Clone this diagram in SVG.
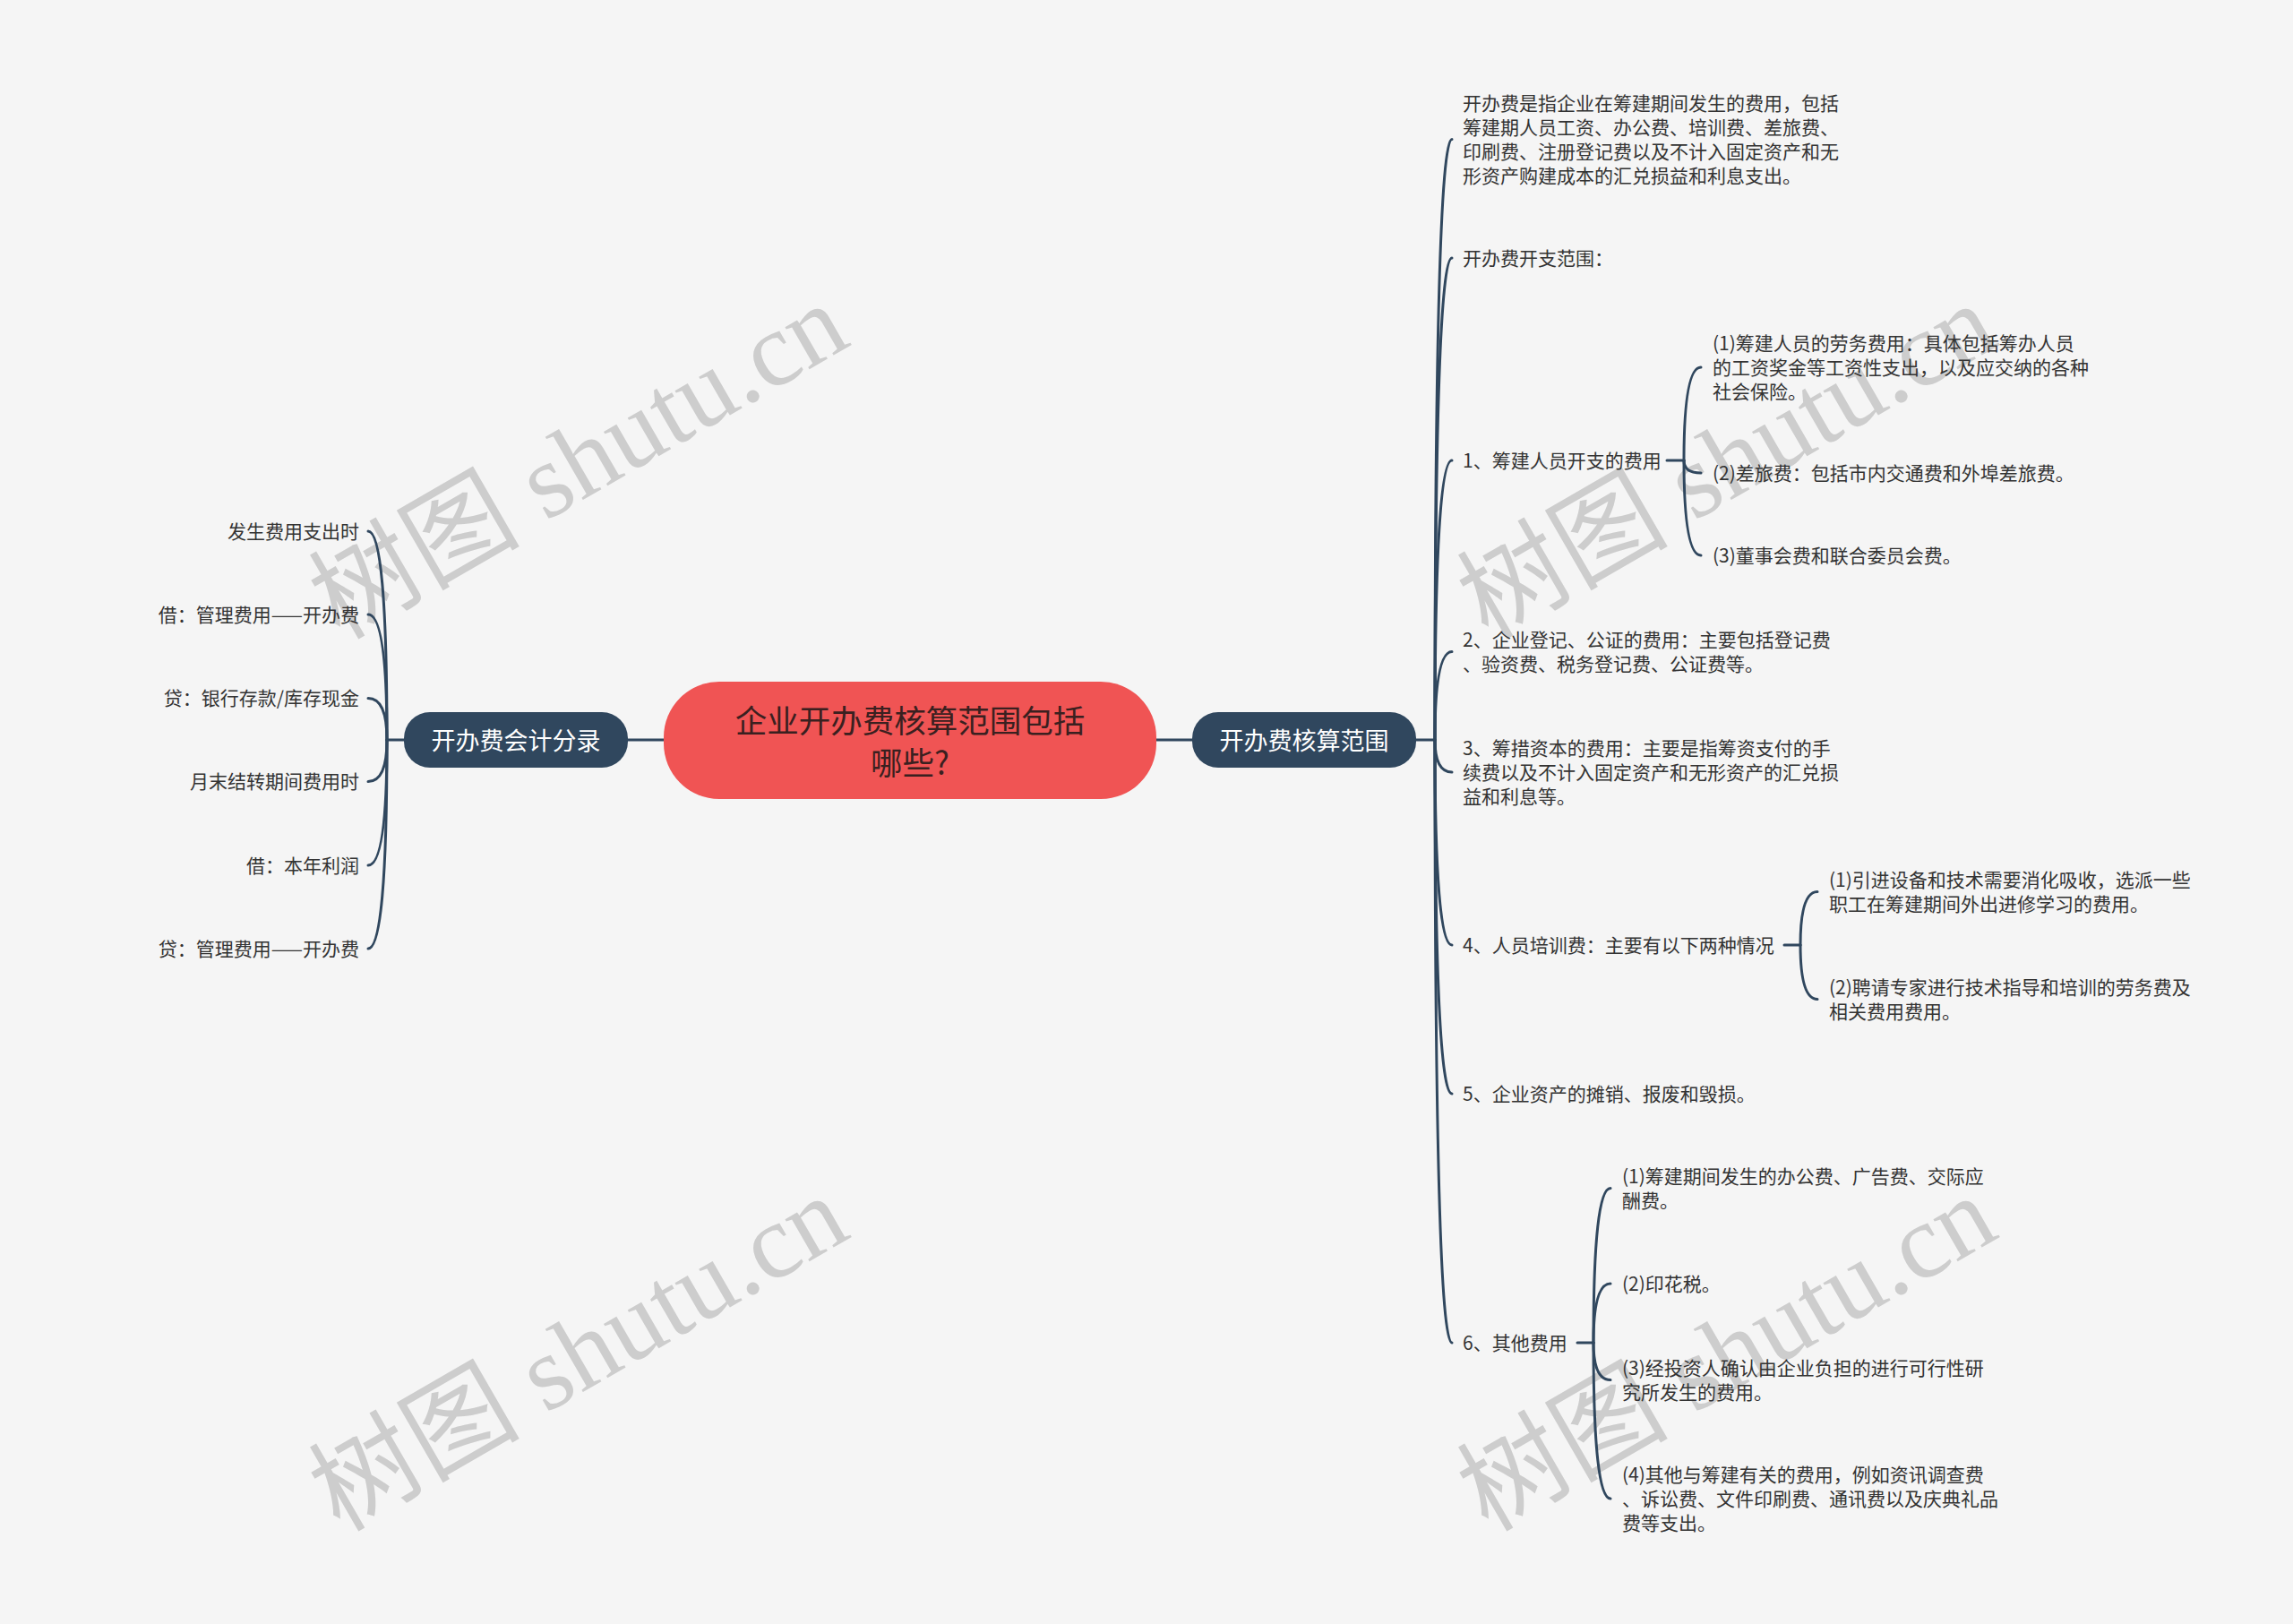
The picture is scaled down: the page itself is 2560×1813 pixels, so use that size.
<svg xmlns="http://www.w3.org/2000/svg" width="2560" height="1813" viewBox="0 0 2560 1813">
<style>
.bg{fill:#f5f5f5}
.wm{font-family:"Liberation Serif","Noto Sans CJK SC",serif;font-size:118px;fill:#cdcdcd}
.t{font-family:"Noto Sans CJK SC","Noto Sans",sans-serif;font-size:21px;fill:#333333;dominant-baseline:central}
.r{text-anchor:end}
.main{fill:#30475e}
.mt{font-family:"Noto Sans CJK SC","Noto Sans",sans-serif;font-size:27px;fill:#ffffff;text-anchor:middle;dominant-baseline:central}
.root{fill:#f05454}
.rt{font-family:"Noto Sans CJK SC","Noto Sans",sans-serif;font-size:35.5px;fill:#3a2020;text-anchor:middle;dominant-baseline:central}
.c{fill:none;stroke:#30475e;stroke-width:3;stroke-linecap:round}
</style>
<rect class="bg" x="0" y="0" width="2560" height="1813"/>
<g id="watermarks">
<text class="wm" transform="translate(379,715) rotate(-30)">树图 shutu.cn</text>
<text class="wm" transform="translate(379,1711) rotate(-30)">树图 shutu.cn</text>
<text class="wm" transform="translate(1661,715) rotate(-30)">树图 shutu.cn</text>
<text class="wm" transform="translate(1661,1711) rotate(-30)">树图 shutu.cn</text>
</g>
<g id="connectors">
<path class="c" d="M1291 826 H1331"/>
<path class="c" d="M741 826 H701"/>
<path class="c" d="M1581 826 H1602"/>
<path class="c" d="M1602 826 Q1602 155.5 1621 155.5"/>
<path class="c" d="M1602 826 Q1602 288 1621 288"/>
<path class="c" d="M1602 826 Q1602 514 1621 514"/>
<path class="c" d="M1602 826 Q1602 727.5 1621 727.5"/>
<path class="c" d="M1602 826 Q1602 862 1621 862"/>
<path class="c" d="M1602 826 Q1602 1055 1621 1055"/>
<path class="c" d="M1602 826 Q1602 1221 1621 1221"/>
<path class="c" d="M1602 826 Q1602 1499 1621 1499"/>
<path class="c" d="M1861 514 H1880"/>
<path class="c" d="M1880 514 Q1880 410 1899 410"/>
<path class="c" d="M1880 514 Q1880 528 1899 528"/>
<path class="c" d="M1880 514 Q1880 620 1899 620"/>
<path class="c" d="M1992 1055 H2010"/>
<path class="c" d="M2010 1055 Q2010 995.5 2029 995.5"/>
<path class="c" d="M2010 1055 Q2010 1115.5 2029 1115.5"/>
<path class="c" d="M1761 1499 H1779"/>
<path class="c" d="M1779 1499 Q1779 1326.5 1798 1326.5"/>
<path class="c" d="M1779 1499 Q1779 1433 1798 1433"/>
<path class="c" d="M1779 1499 Q1779 1540.5 1798 1540.5"/>
<path class="c" d="M1779 1499 Q1779 1673 1798 1673"/>
<path class="c" d="M451 826 H432"/>
<path class="c" d="M432 826 Q432 593 411 593"/>
<path class="c" d="M432 826 Q432 686 411 686"/>
<path class="c" d="M432 826 Q432 779.5 411 779.5"/>
<path class="c" d="M432 826 Q432 872.5 411 872.5"/>
<path class="c" d="M432 826 Q432 966 411 966"/>
<path class="c" d="M432 826 Q432 1059 411 1059"/>
</g>
<g id="root">
<rect class="root" x="741" y="761" width="550" height="131" rx="62" ry="62"/>
<text class="rt" x="1016" y="802">企业开办费核算范围包括</text>
<text class="rt" x="1016" y="849">哪些?</text>
</g>
<g id="n-right">
<rect class="main" x="1331" y="795" width="250" height="62" rx="29"/>
<text class="mt" x="1456" y="825.5">开办费核算范围</text>
</g>
<g id="n-left">
<rect class="main" x="451" y="795" width="250" height="62" rx="29"/>
<text class="mt" x="576" y="825.5">开办费会计分录</text>
</g>
<g transform="translate(0,-1.5)">
<g id="a">
<text class="t" x="1633" y="115">开办费是指企业在筹建期间发生的费用，包括</text>
<text class="t" x="1633" y="142">筹建期人员工资、办公费、培训费、差旅费、</text>
<text class="t" x="1633" y="169">印刷费、注册登记费以及不计入固定资产和无</text>
<text class="t" x="1633" y="196">形资产购建成本的汇兑损益和利息支出。</text>
</g>
<g id="b"><text class="t" x="1633" y="288">开办费开支范围：</text></g>
<g id="c"><text class="t" x="1633" y="514">1、筹建人员开支的费用</text></g>
<g id="c1">
<text class="t" x="1912" y="383">(1)筹建人员的劳务费用：具体包括筹办人员</text>
<text class="t" x="1912" y="410">的工资奖金等工资性支出，以及应交纳的各种</text>
<text class="t" x="1912" y="437">社会保险。</text>
</g>
<g id="c2"><text class="t" x="1912" y="528">(2)差旅费：包括市内交通费和外埠差旅费。</text></g>
<g id="c3"><text class="t" x="1912" y="620">(3)董事会费和联合委员会费。</text></g>
<g id="d">
<text class="t" x="1633" y="714">2、企业登记、公证的费用：主要包括登记费</text>
<text class="t" x="1633" y="741">、验资费、税务登记费、公证费等。</text>
</g>
<g id="e">
<text class="t" x="1633" y="835">3、筹措资本的费用：主要是指筹资支付的手</text>
<text class="t" x="1633" y="862">续费以及不计入固定资产和无形资产的汇兑损</text>
<text class="t" x="1633" y="889">益和利息等。</text>
</g>
<g id="f"><text class="t" x="1633" y="1055">4、人员培训费：主要有以下两种情况</text></g>
<g id="f1">
<text class="t" x="2042" y="982">(1)引进设备和技术需要消化吸收，选派一些</text>
<text class="t" x="2042" y="1009">职工在筹建期间外出进修学习的费用。</text>
</g>
<g id="f2">
<text class="t" x="2042" y="1102">(2)聘请专家进行技术指导和培训的劳务费及</text>
<text class="t" x="2042" y="1129">相关费用费用。</text>
</g>
<g id="g"><text class="t" x="1633" y="1221">5、企业资产的摊销、报废和毁损。</text></g>
<g id="h"><text class="t" x="1633" y="1499">6、其他费用</text></g>
<g id="h1">
<text class="t" x="1811" y="1313">(1)筹建期间发生的办公费、广告费、交际应</text>
<text class="t" x="1811" y="1340">酬费。</text>
</g>
<g id="h2"><text class="t" x="1811" y="1433">(2)印花税。</text></g>
<g id="h3">
<text class="t" x="1811" y="1527">(3)经投资人确认由企业负担的进行可行性研</text>
<text class="t" x="1811" y="1554">究所发生的费用。</text>
</g>
<g id="h4">
<text class="t" x="1811" y="1646">(4)其他与筹建有关的费用，例如资讯调查费</text>
<text class="t" x="1811" y="1673">、诉讼费、文件印刷费、通讯费以及庆典礼品</text>
<text class="t" x="1811" y="1700">费等支出。</text>
</g>
<g id="l1"><text class="t r" x="401" y="593">发生费用支出时</text></g>
<g id="l2"><text class="t r" x="401" y="686">借：管理费用——开办费</text></g>
<g id="l3"><text class="t r" x="401" y="779.5">贷：银行存款/库存现金</text></g>
<g id="l4"><text class="t r" x="401" y="872.5">月末结转期间费用时</text></g>
<g id="l5"><text class="t r" x="401" y="966">借：本年利润</text></g>
<g id="l6"><text class="t r" x="401" y="1059">贷：管理费用——开办费</text></g>
</g>
</svg>
